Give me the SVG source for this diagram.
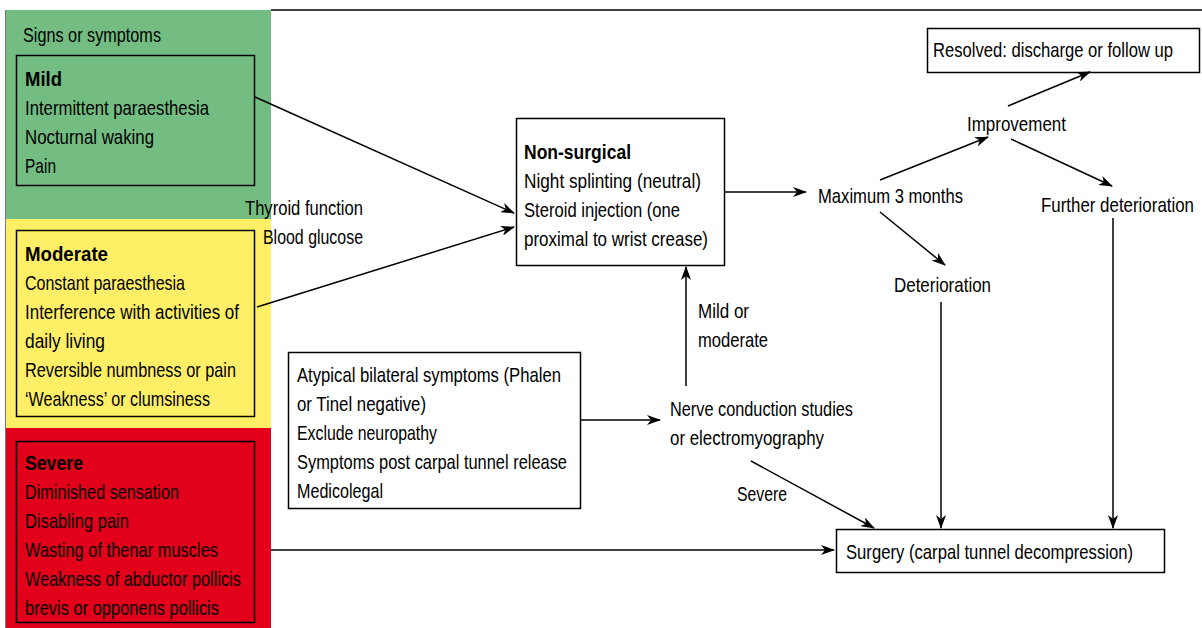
<svg xmlns="http://www.w3.org/2000/svg" width="1202" height="628" viewBox="0 0 1202 628">
<defs>
<style>
text{font-family:"Liberation Sans",Arial,sans-serif;font-size:21px;fill:#000}
.b{font-weight:bold}
.box{fill:none;stroke:#000;stroke-width:1.5}
.wbox{fill:#fff;stroke:#000;stroke-width:1.5}
.c{fill:none;stroke:#000;stroke-width:1.5;marker-end:url(#ah)}
.l{fill:none;stroke:#000;stroke-width:1.5}
</style>
<marker id="ah" markerWidth="14" markerHeight="10" refX="13" refY="5" orient="auto" markerUnits="userSpaceOnUse">
<path d="M0,0 L14,5 L0,10 L4,5 z" fill="#000"/>
</marker>
</defs>
<rect width="1202" height="628" fill="#fff"/>
<line x1="271" y1="10" x2="1202" y2="10" class="l"/>
<g id="panel">
<rect x="5" y="10" width="266" height="209" fill="#73BD82"/>
<rect x="5" y="219" width="266" height="209" fill="#FFEF66"/>
<rect x="5" y="428" width="266" height="200" fill="#E2001A"/>
<line x1="5.5" y1="10" x2="5.5" y2="628" stroke="#777" stroke-width="1"/>
<text x="23" y="42" textLength="138" lengthAdjust="spacingAndGlyphs">Signs or symptoms</text>
</g>
<g id="mild">
<rect x="16.5" y="55.5" width="238" height="130" class="box"/>
<text x="25" y="86" class="b" textLength="37" lengthAdjust="spacingAndGlyphs">Mild</text>
<text x="25" y="115" textLength="184" lengthAdjust="spacingAndGlyphs">Intermittent paraesthesia</text>
<text x="25" y="144" textLength="129" lengthAdjust="spacingAndGlyphs">Nocturnal waking</text>
<text x="25" y="173" textLength="31" lengthAdjust="spacingAndGlyphs">Pain</text>
</g>
<g id="moderate">
<rect x="16.5" y="230.5" width="238" height="186" class="box"/>
<text x="25" y="261" class="b" textLength="83" lengthAdjust="spacingAndGlyphs">Moderate</text>
<text x="25" y="290" textLength="160" lengthAdjust="spacingAndGlyphs">Constant paraesthesia</text>
<text x="25" y="319" textLength="214" lengthAdjust="spacingAndGlyphs">Interference with activities of</text>
<text x="25" y="348" textLength="80" lengthAdjust="spacingAndGlyphs">daily living</text>
<text x="25" y="377" textLength="211" lengthAdjust="spacingAndGlyphs">Reversible numbness or pain</text>
<text x="25" y="406" textLength="185" lengthAdjust="spacingAndGlyphs">‘Weakness’ or clumsiness</text>
</g>
<g id="severe">
<rect x="16.5" y="441.5" width="238" height="181" class="box"/>
<text x="25" y="470" class="b" textLength="58" lengthAdjust="spacingAndGlyphs">Severe</text>
<text x="25" y="499" textLength="154" lengthAdjust="spacingAndGlyphs">Diminished sensation</text>
<text x="25" y="528" textLength="104" lengthAdjust="spacingAndGlyphs">Disabling pain</text>
<text x="25" y="557" textLength="193" lengthAdjust="spacingAndGlyphs">Wasting of thenar muscles</text>
<text x="25" y="586" textLength="216" lengthAdjust="spacingAndGlyphs">Weakness of abductor pollicis</text>
<text x="25" y="615" textLength="194" lengthAdjust="spacingAndGlyphs">brevis or opponens pollicis</text>
</g>
<g id="tests">
<text x="245" y="215" textLength="118" lengthAdjust="spacingAndGlyphs">Thyroid function</text>
<text x="263" y="244" textLength="100" lengthAdjust="spacingAndGlyphs">Blood glucose</text>
</g>
<g id="nonsurgical">
<rect x="516.5" y="118.5" width="208" height="147" class="wbox"/>
<text x="524" y="159" class="b" textLength="107" lengthAdjust="spacingAndGlyphs">Non-surgical</text>
<text x="524" y="188" textLength="177" lengthAdjust="spacingAndGlyphs">Night splinting (neutral)</text>
<text x="524" y="217" textLength="156" lengthAdjust="spacingAndGlyphs">Steroid injection (one</text>
<text x="524" y="246" textLength="184" lengthAdjust="spacingAndGlyphs">proximal to wrist crease)</text>
</g>
<g id="atypical">
<rect x="288.5" y="352.5" width="292" height="156" class="wbox"/>
<text x="297" y="382" textLength="264" lengthAdjust="spacingAndGlyphs">Atypical bilateral symptoms (Phalen</text>
<text x="297" y="411" textLength="129" lengthAdjust="spacingAndGlyphs">or Tinel negative)</text>
<text x="297" y="440" textLength="140" lengthAdjust="spacingAndGlyphs">Exclude neuropathy</text>
<text x="297" y="469" textLength="270" lengthAdjust="spacingAndGlyphs">Symptoms post carpal tunnel release</text>
<text x="297" y="498" textLength="86" lengthAdjust="spacingAndGlyphs">Medicolegal</text>
</g>
<g id="ncs">
<text x="670" y="416" textLength="183" lengthAdjust="spacingAndGlyphs">Nerve conduction studies</text>
<text x="670" y="445" textLength="154" lengthAdjust="spacingAndGlyphs">or electromyography</text>
</g>
<g id="max3">
<text x="818" y="203" textLength="145" lengthAdjust="spacingAndGlyphs">Maximum 3 months</text>
</g>
<g id="improvement">
<text x="967" y="131" textLength="99" lengthAdjust="spacingAndGlyphs">Improvement</text>
</g>
<g id="resolved">
<rect x="927.5" y="28.5" width="272" height="44" class="wbox"/>
<text x="933" y="57" textLength="240" lengthAdjust="spacingAndGlyphs">Resolved: discharge or follow up</text>
</g>
<g id="further">
<text x="1041" y="212" textLength="153" lengthAdjust="spacingAndGlyphs">Further deterioration</text>
</g>
<g id="deterioration">
<text x="894" y="292" textLength="97" lengthAdjust="spacingAndGlyphs">Deterioration</text>
</g>
<g id="surgery">
<rect x="836.5" y="529.5" width="328" height="43" class="wbox"/>
<text x="846" y="559" textLength="287" lengthAdjust="spacingAndGlyphs">Surgery (carpal tunnel decompression)</text>
</g>
<g id="connectors">
<line x1="255" y1="97" x2="514" y2="213" class="c"/>
<line x1="257" y1="307" x2="514" y2="227" class="c"/>
<line x1="724" y1="192" x2="806" y2="192" class="c"/>
<line x1="686" y1="386" x2="686" y2="267" class="c"/>
<text x="698" y="318" textLength="51" lengthAdjust="spacingAndGlyphs">Mild or</text>
<text x="698" y="347" textLength="70" lengthAdjust="spacingAndGlyphs">moderate</text>
<line x1="580" y1="420" x2="660" y2="420" class="c"/>
<line x1="880" y1="180" x2="988" y2="137" class="c"/>
<line x1="1008" y1="106" x2="1090" y2="72" class="c"/>
<line x1="1011" y1="139" x2="1112" y2="186" class="c"/>
<line x1="880" y1="212" x2="945" y2="265" class="c"/>
<line x1="941" y1="302" x2="941" y2="528" class="c"/>
<line x1="1113" y1="218" x2="1113" y2="528" class="c"/>
<line x1="751" y1="461" x2="874" y2="528" class="c"/>
<text x="737" y="501" textLength="50" lengthAdjust="spacingAndGlyphs">Severe</text>
<line x1="271" y1="550" x2="834" y2="550" class="c"/>
</g>
</svg>
